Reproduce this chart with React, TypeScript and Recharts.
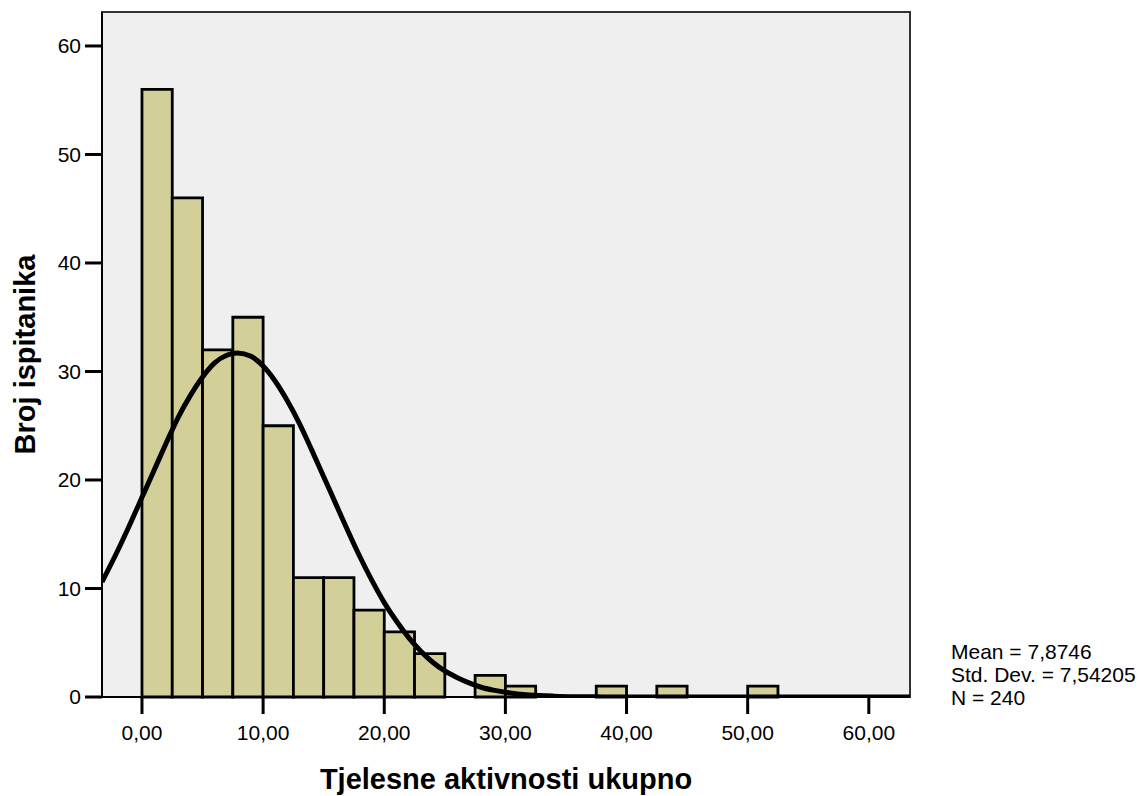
import { ComposedChart, Line, XAxis, YAxis, ReferenceArea, Label } from "recharts";

const FONT = "'Liberation Sans', Arial, Helvetica, sans-serif";

// Histogram bins (start of each 2,5 wide bin) and counts
const BIN_WIDTH = 2.5;
const binStarts = [0, 2.5, 5, 7.5, 10, 12.5, 15, 17.5, 20, 22.5, 25, 27.5, 30, 32.5, 35, 37.5, 40, 42.5, 45, 47.5, 50];
const binCounts = [56, 46, 32, 35, 25, 11, 11, 8, 6, 4, 0, 2, 1, 0, 0, 1, 0, 1, 0, 0, 1];

// Normal curve
const curveX = [-3.3, -2, -1, 0, 1, 2, 3, 4, 5, 6, 7, 7.87, 9, 10, 11, 12, 13, 14, 15, 16, 17, 18, 19, 20, 21, 22, 23, 24, 25, 26, 27, 28, 29, 30, 32, 34, 36, 38, 40, 45, 50, 55, 60, 63.4];
const curveY = [10.6, 13.5, 15.9, 18.4, 20.9, 23.4, 25.8, 27.8, 29.5, 30.8, 31.5, 31.7, 31.4, 30.5, 29.1, 27.3, 25.2, 22.8, 20.3, 17.8, 15.3, 12.9, 10.7, 8.7, 7.0, 5.5, 4.25, 3.2, 2.4, 1.8, 1.3, 0.9, 0.63, 0.43, 0.19, 0.08, 0.03, 0.01, 0, 0, 0, 0, 0, 0];

const xTicks = [0, 10, 20, 30, 40, 50, 60];
const yTicks = [0, 10, 20, 30, 40, 50, 60];
const X_DOMAIN: [number, number] = [-3.3, 63.4];
const Y_DOMAIN: [number, number] = [0, 63.13];

const statsLines = ["Mean = 7,8746", "Std. Dev. = 7,54205", "N = 240"];

const curveData = curveX.map((x, i) => ({ x, y: curveY[i] }));
const bars = binStarts
  .map((start, i) => ({ start, end: start + BIN_WIDTH, count: binCounts[i] }))
  .filter((b) => b.count > 0);

const titleStyle = { fill: "#000", fontSize: 29, fontWeight: "bold", fontFamily: FONT };

export default function App() {
  return (
    <div style={{ position: "absolute", left: 0, top: 0, width: 1142, height: 796, background: "#fff", fontFamily: FONT }}>
      <ComposedChart width={1142} height={796} margin={{ top: 12, right: 232, bottom: 0, left: 0 }}>
        <XAxis
          dataKey="x"
          type="number"
          domain={X_DOMAIN}
          ticks={xTicks}
          allowDataOverflow
          height={99}
          tickSize={17}
          tickMargin={11}
          tickFormatter={(v: number) => v.toFixed(2).replace(".", ",")}
          tick={{ fill: "#000", fontSize: 21, fontFamily: FONT }}
          tickLine={{ stroke: "#000", strokeWidth: 3 }}
          axisLine={{ stroke: "#000", strokeWidth: 2 }}
        >
          <Label value="Tjelesne aktivnosti ukupno" position="insideBottom" offset={7} style={titleStyle} />
        </XAxis>
        <YAxis
          type="number"
          domain={Y_DOMAIN}
          ticks={yTicks}
          allowDataOverflow
          width={102}
          tickSize={17}
          tickMargin={4}
          tick={{ fill: "#000", fontSize: 21, fontFamily: FONT }}
          tickLine={{ stroke: "#000", strokeWidth: 3 }}
          axisLine={{ stroke: "#000", strokeWidth: 2 }}
        >
          <Label
            content={(props: any) => {
              const vb = props.viewBox || { x: 0, y: 12, width: 102, height: 685 };
              const cx = 25;
              const cy = vb.y + vb.height / 2;
              return (
                <text
                  x={cx}
                  y={cy}
                  transform={`rotate(-90, ${cx}, ${cy})`}
                  textAnchor="middle"
                  dominantBaseline="central"
                  style={titleStyle}
                >
                  Broj ispitanika
                </text>
              );
            }}
          />
        </YAxis>
        <ReferenceArea
          x1={X_DOMAIN[0]}
          x2={X_DOMAIN[1]}
          y1={Y_DOMAIN[0]}
          y2={Y_DOMAIN[1]}
          fill="#efefef"
          fillOpacity={1}
          stroke="#333"
          strokeWidth={2}
        />
        {bars.map((b) => (
          <ReferenceArea
            key={b.start}
            x1={b.start}
            x2={b.end}
            y1={0}
            y2={b.count}
            fill="#d3cf99"
            fillOpacity={1}
            stroke="#000"
            strokeWidth={2.8}
          />
        ))}
        <Line
          data={curveData}
          dataKey="y"
          type="monotone"
          stroke="#000"
          strokeWidth={5}
          dot={false}
          activeDot={false}
          isAnimationActive={false}
        />
      </ComposedChart>
      <div style={{ position: "absolute", left: 951, top: 640, fontSize: 21, lineHeight: "23px", color: "#000" }}>
        {statsLines.map((s) => (
          <div key={s}>{s}</div>
        ))}
      </div>
    </div>
  );
}
